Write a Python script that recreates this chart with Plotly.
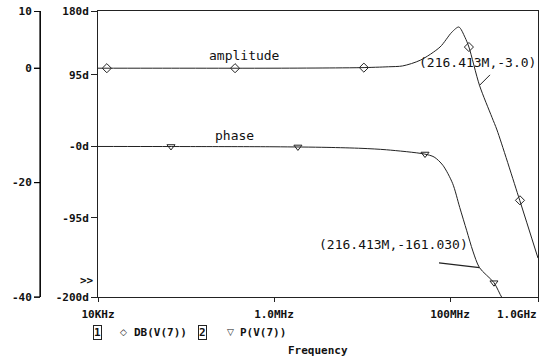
import math
import plotly.graph_objects as go

# ---------------- data ----------------
amp_freq = [1e4, 1e5, 1e6, 5e6, 1e7, 2e7, 2.9e7, 4.6e7, 7.7e7, 1.05e8, 1.26e8,
            1.48e8, 1.64e8, 2.16413e8, 3.0e8, 3.42e8, 6.2e8, 1e9]
amp_db = [0, 0, 0, 0.05, 0.1, 0.25, 0.4, 1.4, 3.7, 6.3, 7.2,
          5.4, 3.7, -3.0, -8.6, -10.8, -23.1, -33.2]

ph_freq = [1e4, 1e5, 1e6, 4e6, 1e7, 1.9e7, 5.1e7, 6.6e7, 8.3e7, 1.07e8, 1.29e8,
           1.55e8, 1.82e8, 2.16413e8, 3.16e8, 3.9e8, 5e8]
ph_deg = [0, -0.1, -0.4, -1.2, -2.5, -4.4, -10, -14, -25, -49, -81,
          -112, -139, -161.03, -181, -201, -218]

amp_mark_freq = [1.26e4, 3.61e5, 1.05e7, 1.64e8, 6.24e8]
amp_mark_db = [0, 0, 0.1, 3.7, -23.1]

ph_mark_freq = [6.75e4, 1.87e6, 5.2e7, 3.16e8]
ph_mark_deg = [0, -0.6, -10, -181]

x_ticks = [1e4, 1e6, 1e8, 1e9]
x_ticktext = ["10KHz", "1.0MHz", "100MHz", ""]
x_last_label = "1.0GHz"
db_range = [-40, 10]
db_ticks = [10, 0, -20, -40]
db_ticktext = ["10", "0", "-20", "-40"]
ph_range = [-200, 180]
ph_ticks = [180, 95, 0, -95, -200]
ph_ticktext = ["180d", "95d", "-0d", "-95d", "-200d"]

cursor_freq = 216.413e6
cursor_db = -3.0
cursor_ph = -161.030

# ---------------- layout helpers ----------------
W, H = 544, 359
ML, MR, MT, MB = 20, 6, 11, 62
PW = W - ML - MR
PH = H - MT - MB


def px(xp):
    return (xp - ML) / PW


def py(yp):
    return (H - MB - yp) / PH


MONO = "DejaVu Sans Mono"
INK = "#111111"
AX = "#222222"
tickfont = dict(family=MONO, size=11, color=INK, weight="bold")

fig = go.Figure()

fig.add_trace(go.Scatter(x=amp_freq, y=amp_db, mode="lines", yaxis="y2",
                         line=dict(color="#222222", width=1, shape="spline", smoothing=0.8),
                         showlegend=False, hoverinfo="skip"))
fig.add_trace(go.Scatter(x=ph_freq, y=ph_deg, mode="lines", yaxis="y",
                         line=dict(color="#222222", width=1, shape="spline", smoothing=0.8),
                         showlegend=False, hoverinfo="skip"))
fig.add_trace(go.Scatter(x=amp_mark_freq, y=amp_mark_db, mode="markers", yaxis="y2",
                         marker=dict(symbol="diamond-open", size=7, color="#222222",
                                     line=dict(width=1)),
                         showlegend=False, hoverinfo="skip"))
fig.add_trace(go.Scatter(x=ph_mark_freq, y=ph_mark_deg, mode="markers", yaxis="y",
                         marker=dict(symbol="triangle-down-open", size=7, color="#222222",
                                     line=dict(width=1)),
                         showlegend=False, hoverinfo="skip"))

annotations = []


def txt(text, xp, yp, size=13, bold=False, family=MONO, **kw):
    f = dict(family=family, size=size, color=INK)
    if bold:
        f["weight"] = "bold"
    d = dict(text=text, x=px(xp), y=py(yp), xref="paper", yref="paper",
             showarrow=False, xanchor="center", yanchor="middle", font=f)
    d.update(kw)
    annotations.append(d)


txt("amplitude", 244, 55)
txt("phase", 234, 135)
txt("(216.413M,-3.0)", 477, 62)
txt("(216.413M,-161.030)", 393, 245)
txt("&gt;&gt;", 87, 280, size=11, bold=True)
txt(x_last_label, 539, 314, size=11, bold=True, xanchor="right")

# cursor leader lines
annotations.append(dict(text="", x=math.log10(cursor_freq), y=cursor_db, xref="x", yref="y2",
                        showarrow=True, arrowhead=0, arrowwidth=1, arrowcolor="#222222",
                        ax=12, ay=-12, standoff=0))
annotations.append(dict(text="", x=math.log10(cursor_freq), y=cursor_ph, xref="x", yref="y",
                        showarrow=True, arrowhead=0, arrowwidth=1.3, arrowcolor="#222222",
                        ax=-42, ay=-5, standoff=0))

# legend row
txt("1", 97.5, 332, size=11, bold=True, bordercolor="#222222", borderwidth=1, borderpad=0)
txt("\u25c7", 123, 332, size=9, family="DejaVu Sans")
txt("DB(V(7))", 160, 332, size=11, bold=True)
txt("2", 202, 332, size=11, bold=True, bordercolor="#222222", borderwidth=1, borderpad=0)
txt("\u25bd", 230, 332, size=9, family="DejaVu Sans")
txt("P(V(7))", 263, 332, size=11, bold=True)
txt("Frequency", 318, 350, size=11, bold=True)

# dB axis line and tick marks, drawn explicitly
shapes = [dict(type="line", xref="paper", yref="paper", x0=px(40), x1=px(40), y0=0, y1=1,
               layer="above", line=dict(color="#000000", width=1.2))]
for v in db_ticks:
    shapes.append(dict(type="line", xref="paper", yref="y2", x0=px(34), x1=px(40), y0=v, y1=v,
                       layer="above", line=dict(color="#000000", width=1.2)))

yax_common = dict(tickfont=tickfont, ticks="outside", ticklen=6, tickcolor=AX, tickwidth=1,
                  showline=True, linecolor=AX, linewidth=1, showgrid=False,
                  zeroline=False, automargin=False)

fig.update_layout(
    width=W, height=H,
    margin=dict(l=ML, r=MR, t=MT, b=MB, pad=0),
    paper_bgcolor="white", plot_bgcolor="white",
    showlegend=False,
    xaxis=dict(type="log", range=[4, 9], domain=[px(98), 1], anchor="y",
               tickvals=x_ticks, ticktext=x_ticktext, tickfont=tickfont,
               ticks="outside", ticklen=4, tickcolor=AX, tickwidth=1,
               ticklabelstandoff=3, automargin=False,
               showline=True, linecolor=AX, linewidth=1, mirror=True,
               showgrid=False, zeroline=False),
    yaxis=dict(range=ph_range, anchor="x", side="left", mirror=True,
               tickvals=ph_ticks, ticktext=ph_ticktext, **yax_common),
    yaxis2=dict(range=db_range, overlaying="y", anchor="free", position=px(40),
                side="left", tickvals=db_ticks, ticktext=db_ticktext, **yax_common),
    shapes=shapes,
    annotations=annotations,
)

fig.write_html("out.html")
